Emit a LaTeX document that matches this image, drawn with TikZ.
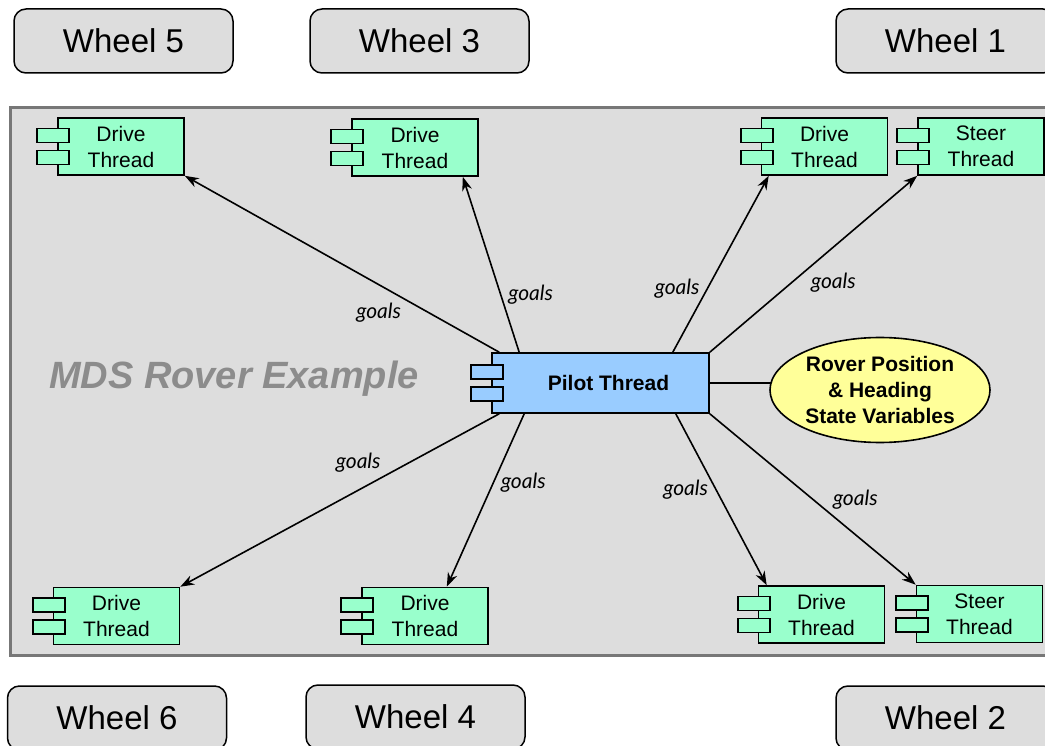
\documentclass[tikz,border=0pt]{standalone}
\usepackage{fontspec}
\setmainfont{Liberation Sans}
\newfontfamily\goalsfont{Lato}
\usetikzlibrary{arrows.meta, shapes.geometric}
\definecolor{boxgray}{HTML}{DDDDDD}
\definecolor{framegray}{HTML}{777777}
\definecolor{threadgreen}{HTML}{99FFCC}
\definecolor{pilotblue}{HTML}{99CCFF}
\definecolor{statevar}{HTML}{FFFF99}
\definecolor{titlegray}{HTML}{8C8C8C}
% the two little tabs of a component box
\newcommand*{\tabs}[2]{%
  \draw[fill=#2, line width=1.6pt] ([xshift=-20pt,yshift=4pt]#1.west) rectangle ++(32pt,14pt);
  \draw[fill=#2, line width=1.6pt] ([xshift=-20pt,yshift=-18pt]#1.west) rectangle ++(32pt,14pt);}

\begin{document}
\begin{tikzpicture}[x=1pt,y=-1pt,>={Stealth[length=14pt,width=10pt]},
      wheel/.style={draw, fill=boxgray, rounded corners=12pt, line width=1.5pt,
        minimum width=219pt, minimum height=64pt, font=\fontsize{33}{38}\selectfont},
      thread/.style={draw, fill=threadgreen, line width=1.6pt, minimum width=126pt,
        minimum height=57pt, inner sep=1pt, align=center, font=\fontsize{21}{26}\selectfont},
      goal/.style={font=\goalsfont\itshape\fontsize{21}{22}\selectfont, inner sep=3pt}]
      \useasboundingbox (0,0) rectangle (1045,746);
      \draw[framegray, fill=boxgray, line width=3pt] (10,108) rectangle (1070,655);
      % wheels
      \node[wheel] (w5) at (123.5,41) {Wheel 5};
      \node[wheel] (w3) at (419.5,41) {Wheel 3};
      \node[wheel] (w1) at (945.5,41) {Wheel 1};
      \node[wheel] (w6) at (117,718) {Wheel 6};
      \node[wheel] (w4) at (415.5,717) {Wheel 4};
      \node[wheel] (w2) at (945.5,718) {Wheel 2};
      \node[font=\fontsize{38}{44}\selectfont\bfseries\itshape, text=titlegray] (title) at (234,379) {MDS Rover Example};
      % threads
      \node[thread] (d5) at (121,146.5) {Drive\\Thread};
      \node[thread] (d3) at (415,147.5) {Drive\\Thread};
      \node[thread] (d1) at (824.5,146.5) {Drive\\Thread};
      \node[thread] (s1) at (981,146.5) {Steer\\Thread};
      \node[thread] (d6) at (116.5,616) {Drive\\Thread};
      \node[thread] (d4) at (425,616) {Drive\\Thread};
      \node[thread] (d2) at (821.5,614.5) {Drive\\Thread};
      \node[thread] (s2) at (979.5,614) {Steer\\Thread};
      \foreach \t in {d5,d3,d1,s1,d6,d4,d2,s2} {\tabs{\t}{threadgreen}}
      \node[draw, fill=pilotblue, line width=1.6pt, minimum width=217pt, minimum height=60pt,
        font=\fontsize{21}{24}\selectfont\bfseries, text depth=0pt] (pilot) at (600.5,383) {\hspace{16pt}Pilot Thread};
      \tabs{pilot}{pilotblue}
      \draw[line width=1.6pt] (pilot.east) -- (pilot.east -| 772,0);
      \node[ellipse, draw, fill=statevar, line width=1.6pt, minimum width=220pt, minimum height=105pt,
        inner sep=0pt, align=center, font=\fontsize{21}{26}\selectfont\bfseries] (state) at (880,390)
        {Rover Position\\\& Heading\\State Variables};
      % goals
      \draw[->, line width=1.6pt] ([xshift=8pt]pilot.north west) -- node[goal, pos=.3, below left] {goals} (d5.south east);
      \draw[->, line width=1.6pt] ([xshift=28pt]pilot.north west) -- node[goal, pos=.33, right=4pt] {goals} ([xshift=-16pt]d3.south east);
      \draw[->, line width=1.6pt] ([xshift=-37pt]pilot.north east) -- node[goal, pos=.36, left=4pt] {goals} ([xshift=8pt]d1.south west);
      \draw[->, line width=1.6pt] (pilot.north east) -- node[goal, pos=.47, below right] {goals} (s1.south west);
      \draw[->, line width=1.6pt] ([xshift=8pt]pilot.south west) -- node[goal, pos=.36, above left] {goals} (d6.north east);
      \draw[->, line width=1.6pt] ([xshift=33pt]pilot.south west) -- node[goal, pos=.4, right=4pt] {goals} ([xshift=-42pt]d4.north east);
      \draw[->, line width=1.6pt] ([xshift=-34pt]pilot.south east) -- node[goal, pos=.44, left=4pt] {goals} ([xshift=9pt]d2.north west);
      \draw[->, line width=1.6pt] (pilot.south east) -- node[goal, pos=.58, above right] {goals} (s2.north west);
    \end{tikzpicture}
\end{document}
